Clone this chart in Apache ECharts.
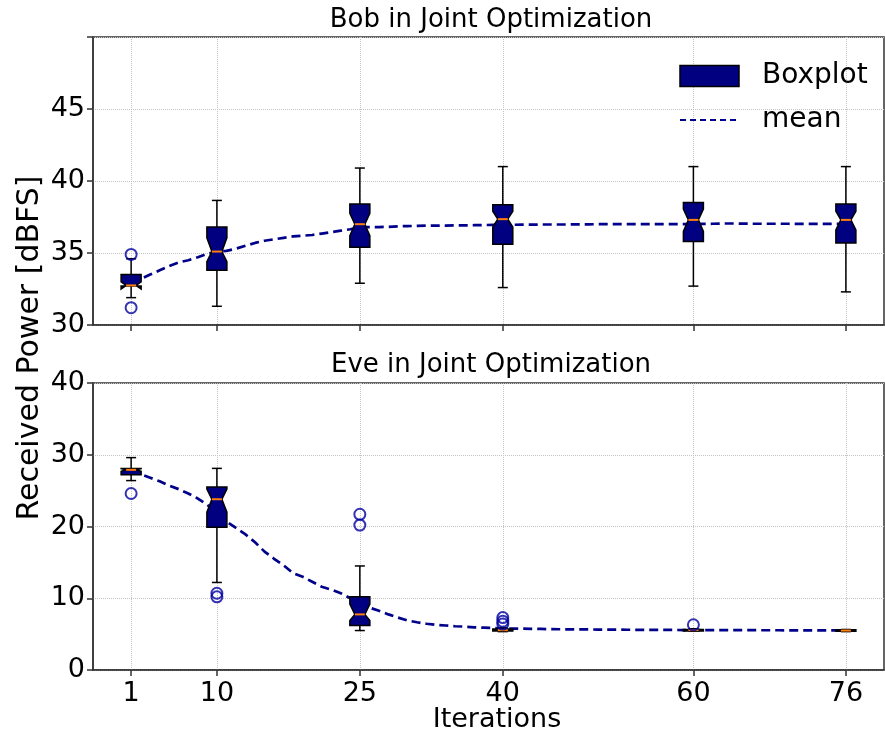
<!DOCTYPE html>
<html>
<head>
<meta charset="utf-8">
<script src="https://cdn.jsdelivr.net/npm/echarts@6/dist/echarts.min.js"></script>
<style>
  html, body { margin: 0; padding: 0; background: #fff; }
  #chart { width: 885px; height: 737px; }
</style>
</head>
<body>
<div id="chart"></div>
<script>
// iterations where a boxplot is drawn
var iters = [1, 10, 25, 40, 60, 76];

// Bob (top panel)
var bobWhiskerLow  = [31.9, 31.3, 32.9, 32.6, 32.7, 32.3];
var bobQ1          = [32.7, 33.8, 35.4, 35.6, 35.8, 35.7];
var bobMedian      = [32.75, 35.1, 37.0, 37.35, 37.3, 37.3];
var bobQ3          = [33.5, 36.8, 38.4, 38.35, 38.5, 38.4];
var bobWhiskerHigh = [34.6, 38.65, 40.9, 41.0, 41.0, 41.0];
var bobNotchLow    = [32.5, 34.4, 36.2, 36.8, 36.5, 36.6];
var bobNotchHigh   = [33.0, 36.05, 37.75, 37.9, 38.05, 37.9];
var bobOutliers    = [[1, 34.9], [1, 31.2]];

// Eve (bottom panel)
var eveWhiskerLow  = [26.4, 12.2, 5.5, 5.35, 5.4, 5.35];
var eveQ1          = [27.2, 19.9, 6.2, 5.45, 5.45, 5.4];
var eveMedian      = [27.9, 23.8, 7.75, 5.55, 5.55, 5.5];
var eveQ3          = [28.1, 25.5, 10.2, 5.7, 5.65, 5.6];
var eveWhiskerHigh = [29.6, 28.1, 14.5, 5.9, 5.75, 5.65];
var eveNotchLow    = [27.7, 22.0, 6.9, 5.5, 5.5, 5.45];
var eveNotchHigh   = [28.05, 25.2, 9.2, 5.6, 5.6, 5.55];
var eveOutliers    = [[1, 24.6], [10, 10.7], [10, 10.2], [25, 21.7], [25, 20.2],
                      [40, 7.3], [40, 6.8], [40, 6.4], [60, 6.3]];

// mean per iteration 1..76
var bobMean = [
  32.9, 33.2, 33.5, 33.8, 34.1, 34.35, 34.5, 34.7, 34.95, 35.1,
  35.15, 35.3, 35.5, 35.7, 35.85, 35.95, 36.05, 36.15, 36.2, 36.25,
  36.35, 36.45, 36.55, 36.65, 36.8, 36.8, 36.8, 36.82, 36.85, 36.87,
  36.88, 36.9, 36.9, 36.9, 36.92, 36.92, 36.93, 36.94, 36.95, 36.95,
  36.96, 36.97, 36.97, 36.98, 36.98, 36.98, 36.98, 36.99, 36.99, 37.0,
  37.0, 37.0, 37.0, 37.0, 37.0, 37.0, 37.0, 37.0, 37.0, 37.0,
  37.02, 37.03, 37.05, 37.05, 37.04, 37.03, 37.03, 37.03, 37.03, 37.03,
  37.02, 37.02, 37.02, 37.02, 37.02, 37.02
];
var eveMean = [
  27.8, 27.3, 26.8, 26.3, 25.7, 25.2, 24.6, 23.9, 23.0, 21.9,
  20.7, 19.8, 18.9, 17.8, 16.5, 15.5, 14.6, 13.5, 13.0, 12.3,
  11.6, 11.2, 10.7, 10.0, 9.4, 8.7, 8.25, 7.75, 7.3, 6.9,
  6.65, 6.45, 6.3, 6.2, 6.1, 6.05, 5.95, 5.9, 5.85, 5.8,
  5.78, 5.76, 5.74, 5.72, 5.7, 5.68, 5.67, 5.66, 5.65, 5.64,
  5.63, 5.62, 5.61, 5.6, 5.6, 5.59, 5.58, 5.58, 5.57, 5.57,
  5.56, 5.56, 5.56, 5.55, 5.55, 5.55, 5.54, 5.54, 5.54, 5.53,
  5.53, 5.53, 5.52, 5.52, 5.52, 5.52
];

var FONT = 'DejaVu Sans';
var BOX_HALF = 1.05;   // half box width, in iteration units

function boxRows(wl, q1, med, q3, wh, nl, nh) {
    return iters.map(function (x, i) {
        return [x, wl[i], q1[i], med[i], q3[i], wh[i], nl[i], nh[i]];
    });
}
function meanRows(vals) {
    return vals.map(function (v, i) { return [i + 1, v]; });
}

function renderBox(params, api) {
    var x = api.value(0);
    var wl = api.value(1), q1 = api.value(2), med = api.value(3),
        q3 = api.value(4), wh = api.value(5), nl = api.value(6), nh = api.value(7);
    var L = x - BOX_HALF, R = x + BOX_HALF, inset = BOX_HALF / 2, cap = BOX_HALF / 2;
    function p(a, b) { return api.coord([a, b]); }
    var blk = { stroke: '#000', lineWidth: 1.5, fill: null };
    return {
        type: 'group',
        children: [
            { type: 'polyline', shape: { points: [p(x, q1), p(x, wl)] }, style: blk },
            { type: 'polyline', shape: { points: [p(x, q3), p(x, wh)] }, style: blk },
            { type: 'polyline', shape: { points: [p(x - cap, wl), p(x + cap, wl)] }, style: blk },
            { type: 'polyline', shape: { points: [p(x - cap, wh), p(x + cap, wh)] }, style: blk },
            {
                type: 'polygon',
                shape: { points: [p(L, q1), p(R, q1), p(R, nl), p(R - inset, med), p(R, nh),
                                  p(R, q3), p(L, q3), p(L, nh), p(L + inset, med), p(L, nl)] },
                style: { fill: '#000080', stroke: '#000', lineWidth: 1.5 }
            },
            { type: 'polyline', shape: { points: [p(L + inset, med), p(R - inset, med)] },
              style: { stroke: '#ff7f0e', lineWidth: 2, fill: null } }
        ]
    };
}

var gridLine = { show: true, lineStyle: { color: '#c4c4c4', type: 'dotted', width: 1 } };
var axisLineStyle = { show: true, onZero: false, lineStyle: { color: '#333', width: 1.5 } };
var tickStyle = { show: true, length: 6, inside: false, lineStyle: { color: '#333', width: 1.5 } };

function xAxisFor(idx, showLabels) {
    return {
        type: 'value', gridIndex: idx, min: -3, max: 80,
        axisLine: axisLineStyle,
        axisTick: Object.assign({ customValues: iters }, tickStyle),
        axisLabel: { show: showLabels, customValues: iters, fontFamily: FONT, fontSize: 27, color: '#000', margin: 10 },
        splitLine: gridLine
    };
}

var meanLine = { color: '#00008b', width: 2.7, type: [9, 5] };

var chart = echarts.init(document.getElementById('chart'));
chart.setOption({
    animation: false,
    backgroundColor: '#fff',
    grid: [
        { left: 93, right: 1, top: 37, height: 288, show: true, borderColor: '#333', borderWidth: 1.5 },
        { left: 93, right: 1, top: 383, height: 287, show: true, borderColor: '#333', borderWidth: 1.5 }
    ],
    xAxis: [xAxisFor(0, false), xAxisFor(1, true)],
    yAxis: [
        {
            type: 'value', gridIndex: 0, min: 30, max: 50, interval: 5,
            axisLine: axisLineStyle, axisTick: tickStyle,
            axisLabel: { fontFamily: FONT, fontSize: 27, color: '#000', margin: 8,
                         formatter: function (v) { return v >= 50 ? '' : String(v); } },
            splitLine: gridLine
        },
        {
            type: 'value', gridIndex: 1, min: 0, max: 40, interval: 10,
            axisLine: axisLineStyle, axisTick: tickStyle,
            axisLabel: { fontFamily: FONT, fontSize: 27, color: '#000', margin: 8 },
            splitLine: gridLine
        }
    ],
    legend: {
        orient: 'vertical', left: 679, top: 62, padding: 0,
        itemWidth: 59, itemHeight: 21, itemGap: 16,
        selectedMode: false,
        textStyle: { fontFamily: FONT, fontSize: 28, color: '#000', padding: [0, 0, 0, 18] },
        data: [
            { name: 'Boxplot', icon: 'rect', itemStyle: { color: '#000080', borderColor: '#000', borderWidth: 1.5 } },
            { name: 'mean', itemStyle: { color: 'rgba(0,0,0,0)', borderColor: 'rgba(0,0,0,0)', borderWidth: 0 },
              lineStyle: { color: '#00008b', width: 2, type: [6, 4] } }
        ]
    },
    graphic: [
        { type: 'text', x: 491, y: 20, style: { text: 'Bob in Joint Optimization', fontFamily: FONT, fontSize: 26, fill: '#000', align: 'center', verticalAlign: 'middle' } },
        { type: 'text', x: 491, y: 365, style: { text: 'Eve in Joint Optimization', fontFamily: FONT, fontSize: 26, fill: '#000', align: 'center', verticalAlign: 'middle' } },
        { type: 'text', x: 30, y: 348, rotation: Math.PI / 2, style: { text: 'Received Power [dBFS]', fontFamily: FONT, fontSize: 30, fill: '#000', align: 'center', verticalAlign: 'middle' } },
        { type: 'text', x: 497, y: 720, style: { text: 'Iterations', fontFamily: FONT, fontSize: 27, fill: '#000', align: 'center', verticalAlign: 'middle' } }
    ],
    series: [
        {
            name: 'mean', type: 'line', xAxisIndex: 0, yAxisIndex: 0, z: 1,
            symbol: 'none', silent: true,
            lineStyle: meanLine,
            itemStyle: { color: '#00008b' },
            data: meanRows(bobMean)
        },
        {
            name: 'mean', type: 'line', xAxisIndex: 1, yAxisIndex: 1, z: 1,
            symbol: 'none', silent: true,
            lineStyle: meanLine,
            itemStyle: { color: '#00008b' },
            data: meanRows(eveMean)
        },
        {
            name: 'Boxplot', type: 'custom', xAxisIndex: 0, yAxisIndex: 0, z: 3,
            renderItem: renderBox, itemStyle: { color: '#000080' },
            encode: { x: 0, y: [1, 5] },
            data: boxRows(bobWhiskerLow, bobQ1, bobMedian, bobQ3, bobWhiskerHigh, bobNotchLow, bobNotchHigh)
        },
        {
            name: 'Boxplot', type: 'custom', xAxisIndex: 1, yAxisIndex: 1, z: 3,
            renderItem: renderBox, itemStyle: { color: '#000080' },
            encode: { x: 0, y: [1, 5] },
            data: boxRows(eveWhiskerLow, eveQ1, eveMedian, eveQ3, eveWhiskerHigh, eveNotchLow, eveNotchHigh)
        },
        {
            name: 'outliers', type: 'scatter', xAxisIndex: 0, yAxisIndex: 0, z: 4,
            symbol: 'circle', symbolSize: 11,
            itemStyle: { color: 'rgba(0,0,0,0)', borderColor: '#0000a0', borderWidth: 2 },
            data: bobOutliers
        },
        {
            name: 'outliers', type: 'scatter', xAxisIndex: 1, yAxisIndex: 1, z: 4,
            symbol: 'circle', symbolSize: 11,
            itemStyle: { color: 'rgba(0,0,0,0)', borderColor: '#0000a0', borderWidth: 2 },
            data: eveOutliers
        }
    ]
});
</script>
</body>
</html>
